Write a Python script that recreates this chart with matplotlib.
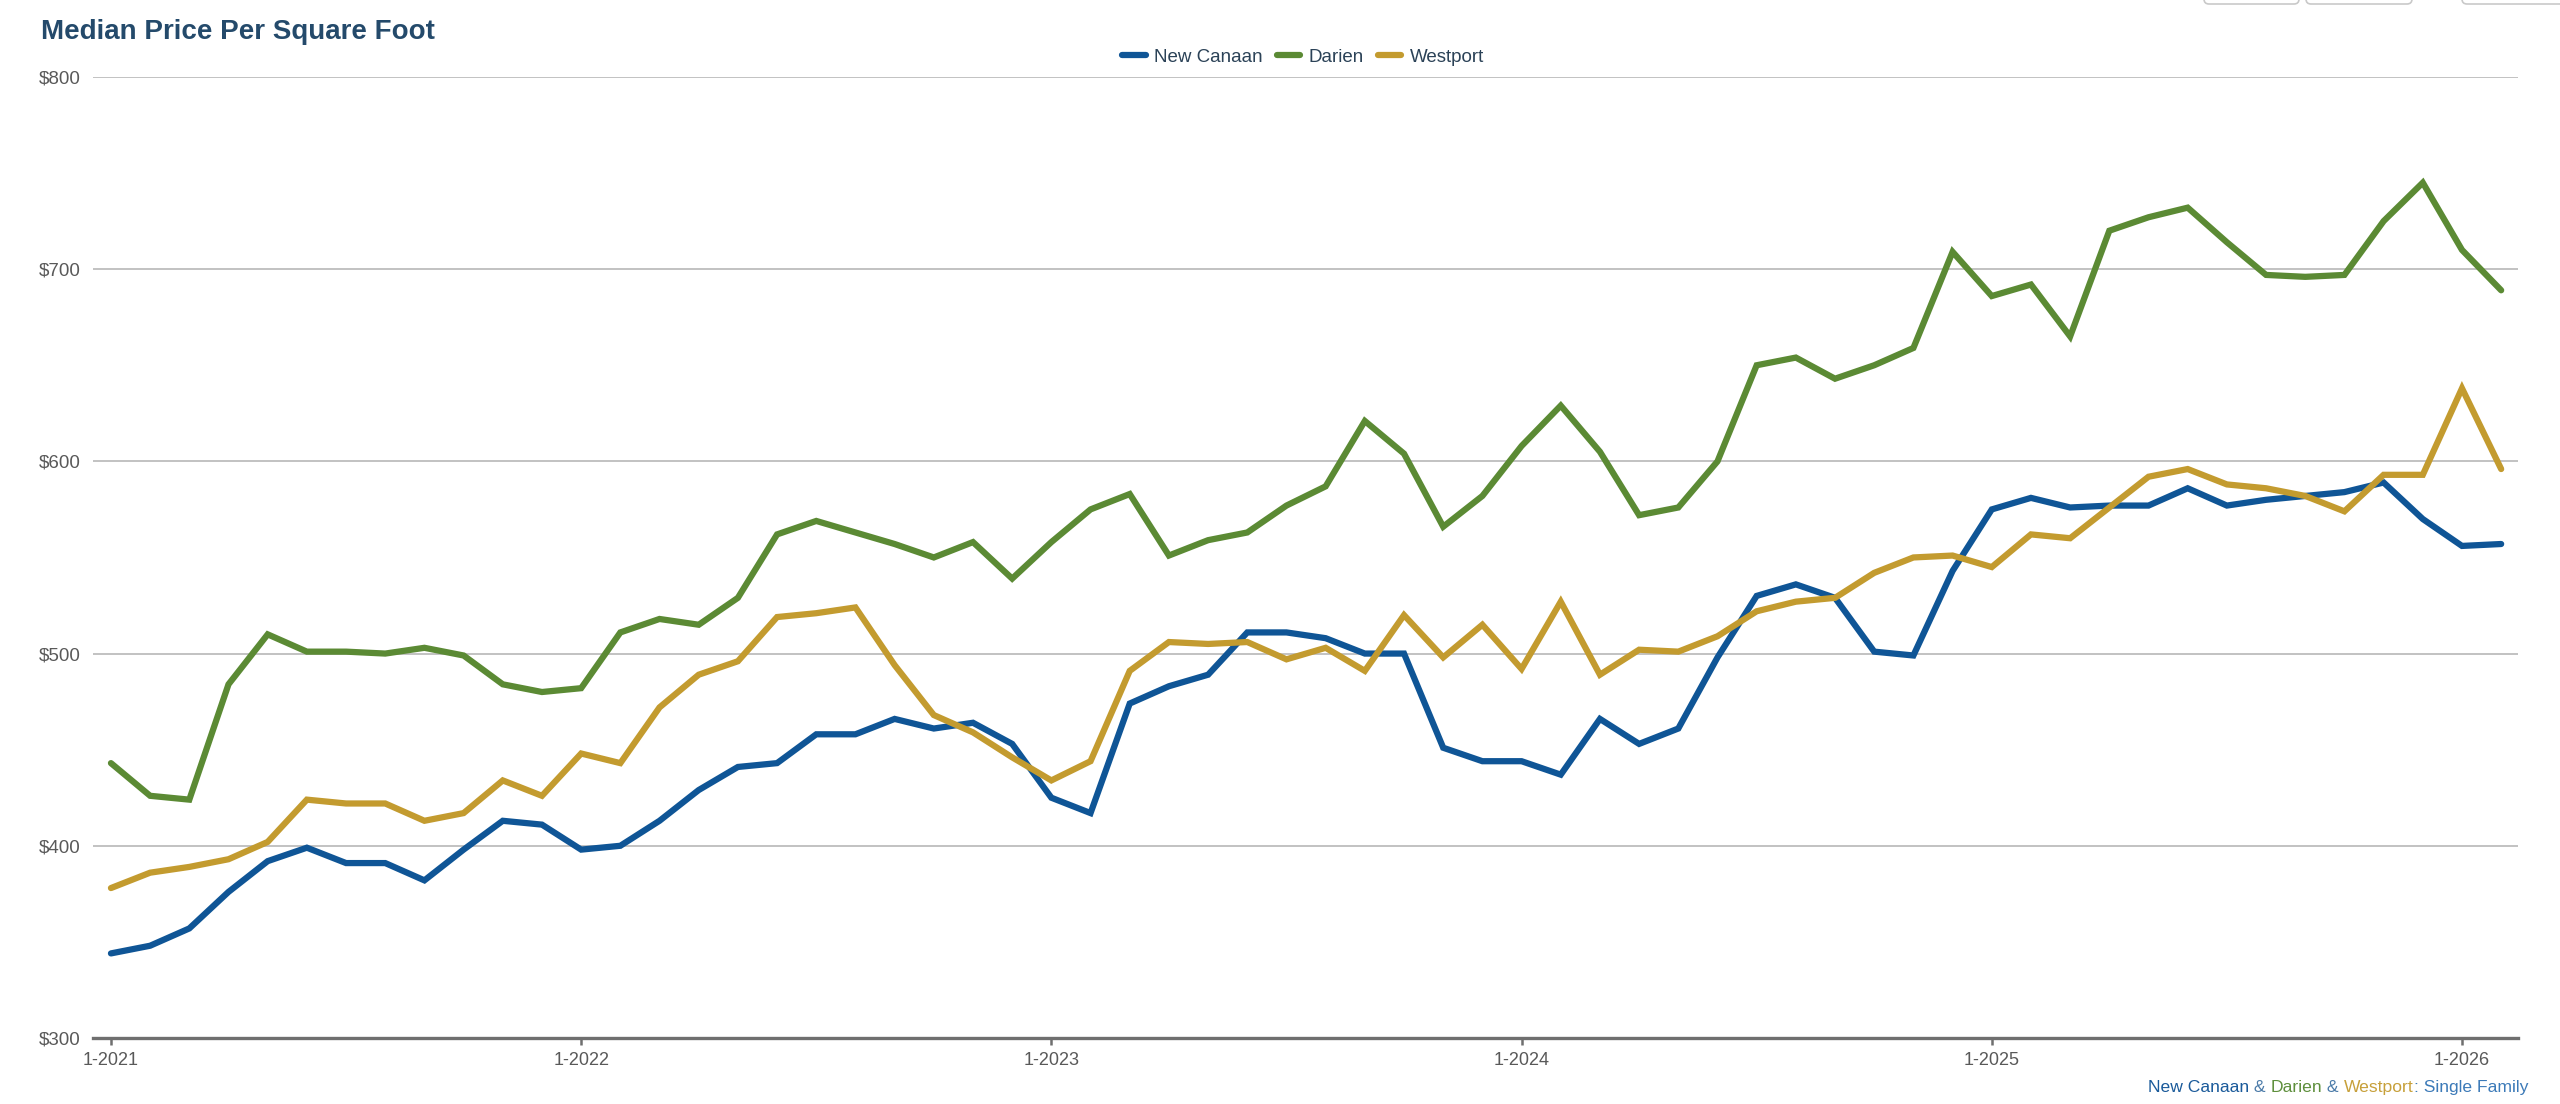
import numpy as np
import matplotlib
matplotlib.use("Agg")
import matplotlib.pyplot as plt
from matplotlib.ticker import FuncFormatter
from matplotlib.offsetbox import TextArea, HPacker, AnchoredOffsetbox
from matplotlib.patches import FancyBboxPatch
from matplotlib.transforms import IdentityTransform

plt.rcParams['font.family'] = ['Liberation Sans', 'DejaVu Sans']

# monthly data, 1-2021 .. 2-2026
years = list(range(2021, 2027))
months = [f"{m}-{y}" for y in years for m in range(1, 13)][:62]

new_canaan = [344, 348, 357, 376, 392, 399, 391, 391, 382, 398, 413, 411,
              398, 400, 413, 429, 441, 443, 458, 458, 466, 461, 464, 453,
              425, 417, 474, 483, 489, 511, 511, 508, 500, 500, 451, 444,
              444, 437, 466, 453, 461, 498, 530, 536, 529, 501, 499, 543,
              575, 581, 576, 577, 577, 586, 577, 580, 582, 584, 589, 570,
              556, 557]
darien = [443, 426, 424, 484, 510, 501, 501, 500, 503, 499, 484, 480,
          482, 511, 518, 515, 529, 562, 569, 563, 557, 550, 558, 539,
          558, 575, 583, 551, 559, 563, 577, 587, 621, 604, 566, 582,
          608, 629, 605, 572, 576, 600, 650, 654, 643, 650, 659, 709,
          686, 692, 665, 720, 727, 732, 714, 697, 696, 697, 725, 745,
          710, 689]
westport = [378, 386, 389, 393, 402, 424, 422, 422, 413, 417, 434, 426,
            448, 443, 472, 489, 496, 519, 521, 524, 494, 468, 459, 446,
            434, 444, 491, 506, 505, 506, 497, 503, 491, 520, 498, 515,
            492, 527, 489, 502, 501, 509, 522, 527, 529, 542, 550, 551,
            545, 562, 560, 576, 592, 596, 588, 586, 582, 574, 593, 593,
            638, 596]

series = [("New Canaan", new_canaan, "#0f5596"),
          ("Darien", darien, "#5b8a34"),
          ("Westport", westport, "#c39b2f")]

fig = plt.figure(figsize=(25.6, 11.04), dpi=100)
ax = fig.add_axes([0.0363, 0.0598, 0.9473, 0.8705])

x = np.arange(len(months))
for name, vals, col in series:
    ax.plot(x, vals, color=col, lw=4.5, label=name, solid_joinstyle='miter',
            solid_capstyle='round')

ax.set_ylim(300, 800)
ax.set_xlim(-0.46, 61.43)
ax.set_yticks(range(300, 801, 100))
ax.yaxis.set_major_formatter(FuncFormatter(lambda v, p: f"${int(v)}"))
jan = [i for i, m in enumerate(months) if m.startswith("1-")]
ax.set_xticks(jan)
ax.set_xticklabels([months[i] for i in jan])

ax.yaxis.grid(True, color='#bdbdbd', lw=1.3)
ax.set_axisbelow(True)
for s in ['top', 'right', 'left']:
    ax.spines[s].set_visible(False)
ax.spines['bottom'].set_color('#6f6f6f')
ax.spines['bottom'].set_linewidth(2.4)
ax.tick_params(axis='y', length=0, pad=9, labelsize=13.5, labelcolor='#595959')
ax.tick_params(axis='x', length=5, width=1.8, color='#6f6f6f', pad=5,
               labelsize=13, labelcolor='#595959')

fig.text(0.016, 0.983, "Median Price Per Square Foot", fontsize=20,
         fontweight='bold', color='#244a6b', ha='left', va='top')

leg = fig.legend(loc='center', bbox_to_anchor=(0.509, 0.948), ncol=3,
                 frameon=False, fontsize=13.5, handlelength=1.25,
                 handletextpad=0.45, columnspacing=0.75)
for t in leg.get_texts():
    t.set_color('#2b4257')

# footer with coloured parts
parts = [("New Canaan", "#1a5a9a"), (" & ", "#4a7aa8"), ("Darien", "#5e8f3c"),
         (" & ", "#4a7aa8"), ("Westport", "#c7a03a"),
         (": Single Family", "#3c7ab8")]
boxes = [TextArea(t, textprops=dict(color=c, fontsize=12.6)) for t, c in parts]
pack = HPacker(children=boxes, align='baseline', pad=0, sep=0)
anch = AnchoredOffsetbox(loc='lower right', child=pack, pad=0, frameon=False,
                         bbox_to_anchor=(0.9875, 0.008),
                         bbox_transform=fig.transFigure, borderpad=0)
fig.add_artist(anch)

# cut-off buttons at the top right edge
for x0, x1 in [(2204, 2299), (2306, 2412), (2462, 2580)]:
    btn = FancyBboxPatch((x0, 1100), x1 - x0, 40,
                         boxstyle="round,pad=0,rounding_size=5",
                         fc='white', ec='#c9c9c9', lw=1.2,
                         transform=IdentityTransform())
    fig.add_artist(btn)

fig.savefig("out.png", dpi=100)
